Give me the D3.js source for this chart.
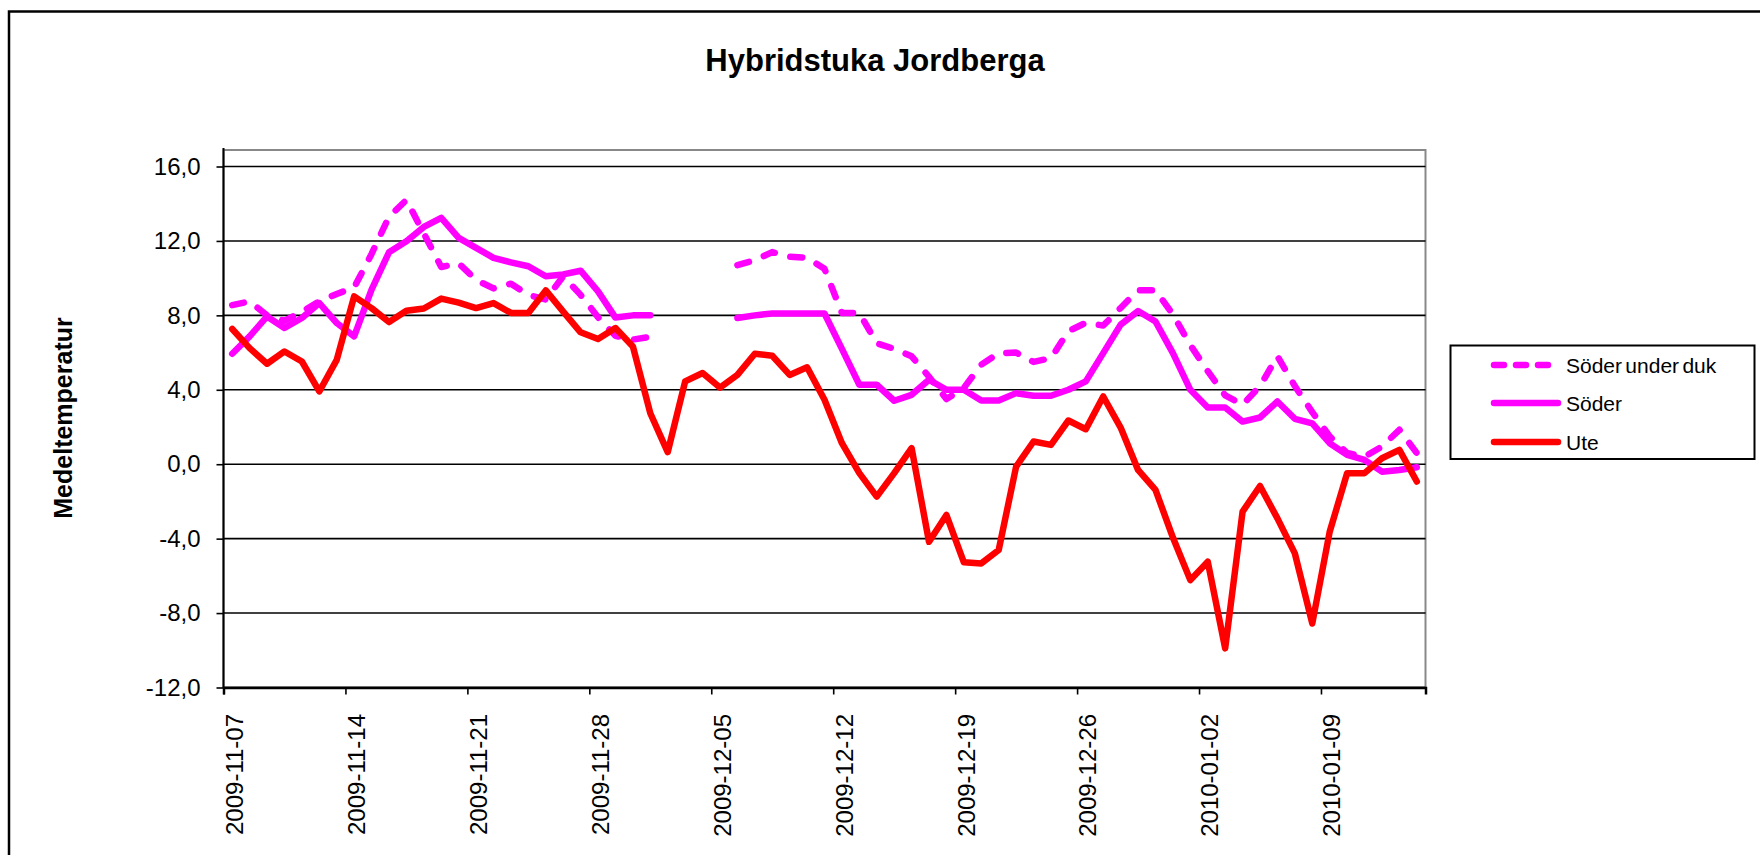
<!DOCTYPE html>
<html>
<head>
<meta charset="utf-8">
<script src="https://cdn.jsdelivr.net/npm/d3@7"></script>
<style>
  body { margin: 0; background: #fff; }
  svg { display: block; font-family: "Liberation Sans", Arial, sans-serif; }
</style>
</head>
<body>
<div id="chart"></div>
<script>
// day by day from 2009-11-07 to 2010-01-14
var days = d3.timeDay.range(new Date(2009, 10, 7), new Date(2010, 0, 15));
var fmtDay = d3.timeFormat("%Y-%m-%d");
var categories = days.map(fmtDay);

var tickLabels = ["2009-11-07", "2009-11-14", "2009-11-21", "2009-11-28", "2009-12-05",
                  "2009-12-12", "2009-12-19", "2009-12-26", "2010-01-02", "2010-01-09"];
var yTicks = [-12, -8, -4, 0, 4, 8, 12, 16];

var soderUnderDuk = [8.55, 8.75, 8.0, 7.7, 8.2, 8.75, 9.15, 9.5, 11.3, 13.3,
  14.2, 12.4, 10.6, 10.8, 9.9, 9.45, 9.7, 9.1, 8.85, 10.1,
  9.1, 7.9, 6.9, 6.7, 6.85, null, null, null, null, 10.7,
  10.96, 11.4, 11.15, 11.1, 10.5, 8.13, 8.13, 6.5, 6.2, 5.8,
  4.7, 3.5, 4.1, 5.35, 5.97, 6.0, 5.5, 5.7, 7.15, 7.6,
  7.45, 8.4, 9.35, 9.35, 8.05, 6.4, 5.0, 3.7, 3.2, 4.2,
  5.8, 4.2, 2.8, 1.5, 0.6, 0.4, 0.95, 1.85, 0.6];

var soder = [5.94, 6.87, 7.94, 7.32, 7.86, 8.66, 7.59, 6.87, 9.38, 11.39,
  11.98, 12.75, 13.24, 12.16, 11.63, 11.09, 10.85, 10.64, 10.1, 10.2,
  10.4, 9.29, 7.88, 8.0, 8.0, null, null, null, null, 7.86,
  8.0, 8.1, 8.1, 8.1, 8.1, 6.2, 4.27, 4.27, 3.41, 3.73,
  4.54, 4.0, 4.0, 3.42, 3.42, 3.82, 3.68, 3.68, 4.0, 4.45,
  5.97, 7.5, 8.23, 7.67, 5.97, 4.0, 3.05, 3.05, 2.29, 2.51,
  3.37, 2.44, 2.2, 1.13, 0.5, 0.23, -0.4, -0.31, -0.16];

var ute = [7.27, 6.24, 5.40, 6.06, 5.52, 3.91, 5.61, 9.02, 8.39, 7.64,
  8.25, 8.37, 8.90, 8.68, 8.39, 8.66, 8.13, 8.13, 9.34, 8.2,
  7.09, 6.73, 7.32, 6.33, 2.74, 0.65, 4.45, 4.90, 4.12, 4.8,
  5.94, 5.83, 4.8, 5.21, 3.46, 1.13, -0.48, -1.74, -0.48, 0.86,
  -4.17, -2.73, -5.27, -5.33, -4.61, -0.13, 1.22, 1.04, 2.35, 1.88,
  3.64, 1.97, -0.31, -1.38, -3.94, -6.23, -5.24, -9.9, -2.55, -1.17,
  -2.91, -4.79, -8.56, -3.63, -0.48, -0.48, 0.32, 0.77, -0.93];

var seriesNames = ["Söder under duk", "Söder", "Ute"];
var seriesData = [soderUnderDuk, soder, ute];
var seriesColors = ["#ff00ff", "#ff00ff", "#ff0000"];
var seriesDash = ["12 16", null, null];
var legendDash = ["10 12", null, null];

var W = 1760, H = 855;
var plot = { left: 223.5, right: 1425.5, top: 150, bottom: 687.5 };

var svg = d3.select("#chart").append("svg")
  .attr("width", W).attr("height", H);

// outer chart border (runs off the right and bottom edges)
svg.append("rect")
  .attr("x", 9).attr("y", 11.5)
  .attr("width", W + 20).attr("height", H + 20)
  .attr("fill", "#fff").attr("stroke", "#000").attr("stroke-width", 2.5);

var x = d3.scaleBand().domain(categories).range([plot.left, plot.right]).padding(0);
var xIdx = d3.scaleLinear().domain([0, categories.length]).range([plot.left, plot.right]);
var y = d3.scaleLinear().domain([-12, 16]).range([plot.bottom, 166.5]);

var loc = d3.formatLocale({ decimal: ",", thousands: " ", grouping: [3], currency: ["", ""], minus: "-" });
var fmtY = loc.format(".1f");

// plot area frame
svg.append("rect")
  .attr("x", plot.left).attr("y", plot.top)
  .attr("width", plot.right - plot.left).attr("height", plot.bottom - plot.top)
  .attr("fill", "none").attr("stroke", "#888").attr("stroke-width", 2);

// gridlines
svg.append("g").selectAll("line").data(yTicks).enter().append("line")
  .attr("x1", plot.left).attr("x2", plot.right)
  .attr("y1", function(d) { return y(d); })
  .attr("y2", function(d) { return y(d); })
  .attr("stroke", "#000").attr("stroke-width", 1.6);

// y axis
var yAxis = svg.append("g")
  .attr("transform", "translate(" + plot.left + ",0)")
  .call(d3.axisLeft(y).tickValues(yTicks).tickFormat(fmtY).tickSize(7).tickPadding(16));
yAxis.select(".domain").remove();
yAxis.append("line")
  .attr("x1", 0).attr("x2", 0).attr("y1", plot.top - 2).attr("y2", plot.bottom)
  .attr("stroke", "#000").attr("stroke-width", 2);
yAxis.selectAll(".tick line").attr("stroke", "#000").attr("stroke-width", 1.6);
yAxis.selectAll("text").attr("font-size", 24).attr("fill", "#000")
  .attr("font-family", "Liberation Sans, Arial, sans-serif");

// x axis
var tickIdx = tickLabels.map(function(t) { return categories.indexOf(t); });
var xAxis = svg.append("g")
  .attr("transform", "translate(0," + plot.bottom + ")")
  .call(d3.axisBottom(xIdx).tickValues(tickIdx).tickFormat("").tickSize(7));
xAxis.select(".domain").attr("stroke", "#000").attr("stroke-width", 2.5);
xAxis.selectAll(".tick line").attr("stroke", "#000").attr("stroke-width", 1.6);

svg.append("g").selectAll("text").data(tickLabels).enter().append("text")
  .attr("transform", function(d) {
    return "translate(" + (x(d) + x.bandwidth() / 2 + 2) + ",714) rotate(-90)";
  })
  .attr("text-anchor", "end")
  .attr("dy", "0.36em")
  .attr("font-size", 24)
  .text(function(d) { return d; });

// lines
var line = d3.line()
  .defined(function(d) { return d != null; })
  .x(function(d, i) { return x(categories[i]) + x.bandwidth() / 2; })
  .y(function(d) { return y(d); });

svg.append("g").selectAll("path").data(seriesData).enter().append("path")
  .attr("d", line)
  .attr("fill", "none")
  .attr("stroke", function(d, i) { return seriesColors[i]; })
  .attr("stroke-width", 6.5)
  .attr("stroke-linejoin", "round")
  .attr("stroke-linecap", "round")
  .attr("stroke-dasharray", function(d, i) { return seriesDash[i]; });

// titles
svg.append("text")
  .attr("x", 875).attr("y", 71)
  .attr("text-anchor", "middle")
  .attr("font-size", 31).attr("font-weight", "bold")
  .text("Hybridstuka Jordberga");

svg.append("text")
  .attr("transform", "translate(63,418) rotate(-90)")
  .attr("text-anchor", "middle")
  .attr("dy", "0.36em")
  .attr("font-size", 25).attr("font-weight", "bold")
  .text("Medeltemperatur");

// legend
var legend = svg.append("g");
legend.append("rect")
  .attr("x", 1450.5).attr("y", 345.5).attr("width", 304).attr("height", 113.5)
  .attr("fill", "#fff").attr("stroke", "#000").attr("stroke-width", 2);

var rowY = [365, 403, 442];
var item = legend.selectAll("g.item").data(seriesNames).enter().append("g")
  .attr("class", "item")
  .attr("transform", function(d, i) { return "translate(0," + rowY[i] + ")"; });
item.append("line")
  .attr("x1", 1494).attr("x2", 1558).attr("y1", 0).attr("y2", 0)
  .attr("stroke", function(d, i) { return seriesColors[i]; })
  .attr("stroke-width", 6.5)
  .attr("stroke-linecap", "round")
  .attr("stroke-dasharray", function(d, i) { return legendDash[i]; });
item.append("text")
  .attr("x", 1566).attr("dy", "0.36em")
  .attr("font-size", 21)
  .attr("word-spacing", -2.5)
  .text(function(d) { return d; });
</script>
</body>
</html>
